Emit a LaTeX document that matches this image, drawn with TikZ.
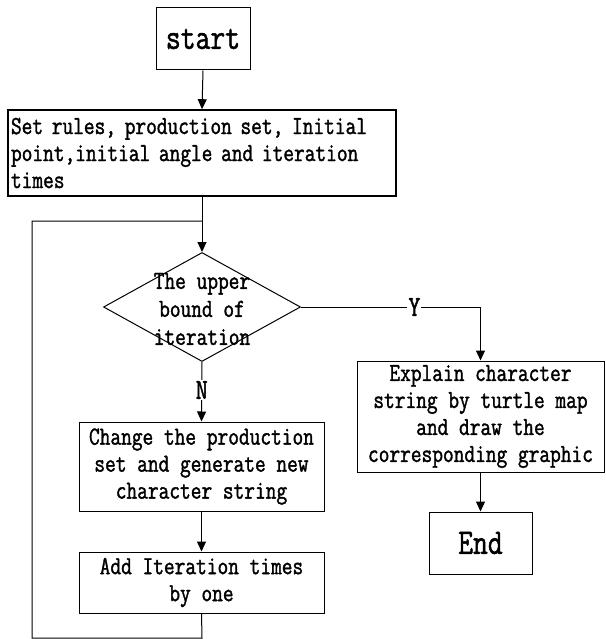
\documentclass[tikz,border=0pt]{standalone}
\usepackage{fontspec}
\setmainfont[FakeStretch=0.8,FakeBold=1.4]{Latin Modern Mono}
\usetikzlibrary{arrows.meta,shapes.geometric}
\begin{document}
\begin{tikzpicture}[x=1pt,y=-1pt,
  box/.style={draw=black,line width=1pt,inner sep=0pt,align=center,font=\fontsize{26}{27}\selectfont},
  big/.style={draw=black,line width=1pt,inner sep=0pt,font=\fontsize{36}{36}\selectfont},
  dia/.style={draw=black,line width=1pt,shape=diamond,inner sep=0pt,minimum width=197pt,minimum height=109pt},
  lbl/.style={fill=white,inner sep=1pt,font=\fontsize{29}{29}\selectfont},
  conn/.style={draw=black,line width=1pt},
  arr/.style={conn,-{Triangle[width=9pt,length=10pt]}}]
\useasboundingbox (0,0) rectangle (605,639);
\node[big,minimum width=94pt,minimum height=62pt] (start) at (203,39) {start};
\node[box,line width=1.6pt,minimum width=388pt,minimum height=86pt,text width=382pt,align=left] (setr) at (202,153)
  {Set rules, production set, Initial\\point,initial angle and iteration\\times};
\node[dia] (dec) at (202,307) {};
\node[align=center,inner sep=0pt,font=\fontsize{26}{28}\selectfont] (dectext) at (202,309) {The upper\\bound of\\iteration};
\node[box,minimum width=245pt,minimum height=89pt] (chg) at (201.5,466.5)
  {Change the production\\set and generate new\\character string};
\node[box,minimum width=245pt,minimum height=61pt] (add) at (201.5,582.5)
  {Add Iteration times\\by one};
\node[box,minimum width=247pt,minimum height=111pt] (expl) at (480.5,416.5)
  {Explain character\\string by turtle map\\and draw the\\corresponding graphic};
\node[big,minimum width=103pt,minimum height=62pt] (end) at (480.5,543) {End};
\coordinate (join) at (202,221);
\coordinate (tl) at (32,221);
\coordinate (bl) at (32,638);
\coordinate (br) at (202,638);
\draw[arr] (start.south) -- (setr.north);
\draw[arr] (setr.south) -- (dec.north);
\draw[conn] (add.south) -- (br) -- (bl) -- (tl) -- (join);
\draw[arr] (dec.south) -- node[lbl,pos=0.47] (nlab) {N} (chg.north);
\draw[arr] (chg.south) -- (add.north);
\draw[arr] (dec.east) -| node[lbl,pos=0.316] (ylab) {Y} (expl.north);
\draw[arr] (expl.south) -- (end.north);
\end{tikzpicture}
\end{document}
